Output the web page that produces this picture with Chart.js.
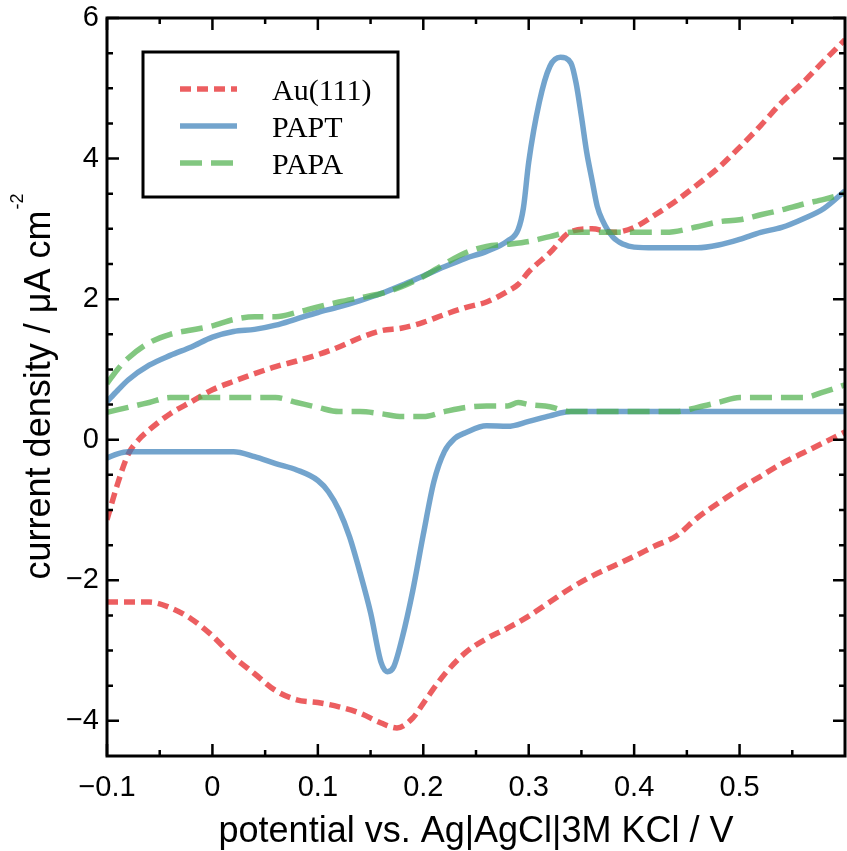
<!DOCTYPE html>
<html>
<head>
<meta charset="utf-8">
<script src="https://cdn.jsdelivr.net/npm/chart.js@4.4.1/dist/chart.umd.min.js"></script>
<style>
  html, body { margin: 0; padding: 0; background: #fff; }
  #wrap { width: 847px; height: 851px; }
</style>
</head>
<body>
<div id="wrap"><canvas id="cvChart" width="847" height="851"></canvas></div>
<script>
// Au(111) - varredura anodica (ramo de cima) e catodica (ramo de baixo)
const auSubidaV = [-0.1, -0.09, -0.08, -0.07, -0.06, -0.04, -0.02, 0, 0.02, 0.04, 0.06, 0.08, 0.1, 0.12, 0.14, 0.16, 0.18, 0.2, 0.22, 0.24, 0.26, 0.28, 0.29, 0.3, 0.32, 0.34, 0.36, 0.38, 0.4, 0.42, 0.44, 0.46, 0.48, 0.5, 0.52, 0.54, 0.56, 0.58, 0.6];
const auSubidaI = [-1.14, -0.63, -0.21, 0.0, 0.14, 0.37, 0.54, 0.71, 0.83, 0.94, 1.04, 1.12, 1.21, 1.32, 1.45, 1.55, 1.59, 1.67, 1.78, 1.88, 1.96, 2.11, 2.21, 2.39, 2.66, 2.96, 3.00, 2.95, 3.02, 3.20, 3.40, 3.63, 3.87, 4.16, 4.47, 4.80, 5.08, 5.39, 5.69];
const auDescidaV = [-0.1, -0.08, -0.06, -0.04, -0.02, 0, 0.02, 0.04, 0.06, 0.08, 0.1, 0.12, 0.14, 0.16, 0.175, 0.19, 0.2, 0.22, 0.24, 0.26, 0.28, 0.3, 0.32, 0.34, 0.36, 0.38, 0.4, 0.42, 0.44, 0.46, 0.48, 0.5, 0.52, 0.54, 0.56, 0.58, 0.6];
const auDescidaI = [-2.31, -2.31, -2.31, -2.39, -2.55, -2.79, -3.09, -3.33, -3.57, -3.70, -3.74, -3.80, -3.89, -4.03, -4.10, -3.96, -3.75, -3.34, -3.03, -2.83, -2.68, -2.51, -2.31, -2.11, -1.94, -1.80, -1.66, -1.51, -1.37, -1.11, -0.90, -0.70, -0.52, -0.34, -0.19, -0.04, 0.11];

// PAPT
const paptSubidaV = [-0.1, -0.09, -0.08, -0.06, -0.04, -0.02, 0, 0.02, 0.04, 0.06, 0.08, 0.1, 0.12, 0.14, 0.16, 0.18, 0.2, 0.22, 0.24, 0.26, 0.28, 0.29, 0.295, 0.3, 0.31, 0.32, 0.33, 0.34, 0.345, 0.35, 0.355, 0.36, 0.365, 0.37, 0.38, 0.39, 0.4, 0.42, 0.44, 0.46, 0.48, 0.5, 0.52, 0.54, 0.56, 0.58, 0.6];
const paptSubidaI = [0.54, 0.70, 0.85, 1.06, 1.20, 1.32, 1.46, 1.54, 1.57, 1.63, 1.72, 1.81, 1.89, 1.98, 2.08, 2.20, 2.33, 2.46, 2.58, 2.68, 2.83, 2.99, 3.3, 3.95, 4.8, 5.31, 5.44, 5.36, 5.07, 4.6, 4.09, 3.7, 3.32, 3.12, 2.88, 2.78, 2.74, 2.73, 2.73, 2.73, 2.77, 2.85, 2.95, 3.02, 3.14, 3.29, 3.54];
const paptDescidaV = [-0.1, -0.09, -0.08, 0.02, 0.04, 0.06, 0.08, 0.1, 0.11, 0.12, 0.13, 0.14, 0.15, 0.16, 0.166, 0.172, 0.18, 0.19, 0.2, 0.21, 0.22, 0.23, 0.24, 0.26, 0.28, 0.3, 0.32, 0.34, 0.6];
const paptDescidaI = [-0.26, -0.20, -0.17, -0.17, -0.24, -0.34, -0.43, -0.58, -0.74, -1.0, -1.38, -1.89, -2.46, -3.17, -3.30, -3.23, -2.82, -2.15, -1.35, -0.6, -0.17, 0.02, 0.10, 0.20, 0.19, 0.26, 0.34, 0.40, 0.40];

// PAPA
const papaSubidaV = [-0.1, -0.09, -0.08, -0.06, -0.04, -0.02, 0, 0.02, 0.04, 0.06, 0.08, 0.1, 0.12, 0.14, 0.16, 0.18, 0.2, 0.22, 0.24, 0.26, 0.28, 0.3, 0.32, 0.34, 0.43, 0.46, 0.48, 0.5, 0.52, 0.54, 0.56, 0.58, 0.6];
const papaSubidaI = [0.80, 1.00, 1.16, 1.38, 1.50, 1.56, 1.62, 1.71, 1.75, 1.75, 1.81, 1.89, 1.96, 2.02, 2.08, 2.18, 2.32, 2.50, 2.66, 2.75, 2.78, 2.82, 2.89, 2.95, 2.95, 3.03, 3.10, 3.13, 3.20, 3.27, 3.35, 3.42, 3.50];
const papaDescidaV = [-0.1, -0.08, -0.06, -0.04, 0.06, 0.08, 0.1, 0.12, 0.14, 0.16, 0.18, 0.2, 0.22, 0.24, 0.26, 0.28, 0.29, 0.3, 0.32, 0.34, 0.44, 0.46, 0.48, 0.5, 0.56, 0.58, 0.6];
const papaDescidaI = [0.39, 0.46, 0.53, 0.60, 0.60, 0.53, 0.46, 0.40, 0.40, 0.37, 0.33, 0.33, 0.40, 0.46, 0.48, 0.48, 0.53, 0.50, 0.47, 0.40, 0.40, 0.46, 0.53, 0.60, 0.60, 0.68, 0.78];

const nomesSeries = ['Au(111)', 'PAPT', 'PAPA'];

// marcas dos eixos
const xTicksMaiores = [-0.1, 0, 0.1, 0.2, 0.3, 0.4, 0.5];
const xTicksMenores = [-0.05, 0.05, 0.15, 0.25, 0.35, 0.45, 0.55];
const yTicksMaiores = [-4, -2, 0, 2, 4, 6];
const yTicksMenores = [-3.5, -3, -2.5, -1.5, -1, -0.5, 0.5, 1, 1.5, 2.5, 3, 3.5, 4.5, 5, 5.5];

const fonteSans = "'Liberation Sans', Arial, sans-serif";
const fonteSerif = "'Liberation Serif', 'Times New Roman', serif";

const corAu = 'rgba(228, 26, 28, 0.7)';
const corPapt = 'rgba(55, 126, 184, 0.7)';
const corPapa = 'rgba(77, 175, 74, 0.7)';

function pontos(vs, is) {
  return vs.map((v, k) => ({ x: v, y: is[k] }));
}

function formatar(v) {
  if (v === 0) return '0';
  return v < 0 ? '\u2212' + Math.abs(v) : String(v);
}

function serie(label, vs, is, cor, tracejado, ordem, naLegenda) {
  return {
    label: label,
    data: pontos(vs, is),
    borderColor: cor,
    borderWidth: 5.5,
    borderDash: tracejado,
    borderCapStyle: 'butt',
    showLine: true,
    pointRadius: 0,
    fill: false,
    cubicInterpolationMode: 'monotone',
    order: ordem,
    naLegenda: naLegenda
  };
}

// eixos com ticks pra dentro, moldura, titulos e legenda
const molduraPlugin = {
  id: 'moldura',
  afterDraw(chart) {
    const { ctx, chartArea: a, scales: { x, y } } = chart;
    ctx.save();
    ctx.strokeStyle = '#000';
    ctx.lineWidth = 2.5;
    ctx.beginPath();
    const tickX = (v, len) => {
      const px = x.getPixelForValue(v);
      ctx.moveTo(px, a.bottom); ctx.lineTo(px, a.bottom - len);
      ctx.moveTo(px, a.top); ctx.lineTo(px, a.top + len);
    };
    const tickY = (v, len) => {
      const py = y.getPixelForValue(v);
      ctx.moveTo(a.left, py); ctx.lineTo(a.left + len, py);
      ctx.moveTo(a.right, py); ctx.lineTo(a.right - len, py);
    };
    xTicksMaiores.forEach(v => tickX(v, 12));
    xTicksMenores.forEach(v => tickX(v, 6));
    yTicksMaiores.forEach(v => tickY(v, 12));
    yTicksMenores.forEach(v => tickY(v, 6));
    ctx.stroke();

    ctx.lineWidth = 3;
    ctx.strokeRect(a.left, a.top, a.right - a.left, a.bottom - a.top);

    // titulo do eixo x
    ctx.fillStyle = '#000';
    ctx.font = '36px ' + fonteSans;
    ctx.textAlign = 'center';
    ctx.textBaseline = 'alphabetic';
    ctx.fillText('potential vs. Ag|AgCl|3M KCl / V', (a.left + a.right) / 2, 842);

    // titulo do eixo y com expoente
    const principal = 'current density / \u03bcA cm';
    const expoente = '-2';
    ctx.font = '36px ' + fonteSans;
    const wP = ctx.measureText(principal).width;
    ctx.font = '18px ' + fonteSans;
    const wE = ctx.measureText(expoente).width;
    ctx.save();
    ctx.translate(50, (a.top + a.bottom) / 2);
    ctx.rotate(-Math.PI / 2);
    ctx.textAlign = 'left';
    const x0 = -(wP + wE) / 2;
    ctx.font = '36px ' + fonteSans;
    ctx.fillText(principal, x0, 0);
    ctx.font = '18px ' + fonteSans;
    ctx.fillText(expoente, x0 + wP + 1, -27);
    ctx.restore();

    // legenda
    ctx.lineWidth = 3;
    ctx.fillStyle = '#fff';
    ctx.fillRect(143, 52, 255, 145);
    ctx.strokeRect(143, 52, 255, 145);
    const itens = chart.data.datasets.filter(d => d.naLegenda);
    itens.forEach((d, k) => {
      const yc = 89 + k * 37;
      ctx.save();
      ctx.strokeStyle = d.borderColor;
      ctx.lineWidth = d.borderWidth;
      ctx.setLineDash(d.borderDash || []);
      ctx.beginPath();
      ctx.moveTo(180, yc);
      ctx.lineTo(237, yc);
      ctx.stroke();
      ctx.restore();
      ctx.fillStyle = '#000';
      ctx.font = '30px ' + fonteSerif;
      ctx.textAlign = 'left';
      ctx.textBaseline = 'alphabetic';
      ctx.fillText(d.label, 272, yc + 11);
    });
    ctx.restore();
  }
};

const ctx = document.getElementById('cvChart').getContext('2d');
const grafico = new Chart(ctx, {
  type: 'scatter',
  data: {
    datasets: [
      serie(nomesSeries[0], auSubidaV, auSubidaI, corAu, [11, 6], 3, true),
      serie(nomesSeries[0], auDescidaV, auDescidaI, corAu, [11, 6], 3, false),
      serie(nomesSeries[1], paptSubidaV, paptSubidaI, corPapt, [], 2, true),
      serie(nomesSeries[1], paptDescidaV, paptDescidaI, corPapt, [], 2, false),
      serie(nomesSeries[2], papaSubidaV, papaSubidaI, corPapa, [22, 9], 1, true),
      serie(nomesSeries[2], papaDescidaV, papaDescidaI, corPapa, [22, 9], 1, false)
    ]
  },
  options: {
    responsive: false,
    animation: false,
    devicePixelRatio: 1,
    layout: { padding: { left: 0, right: 2, top: 18, bottom: 0 } },
    plugins: {
      legend: { display: false },
      tooltip: { enabled: false }
    },
    scales: {
      x: {
        type: 'linear',
        min: -0.1,
        max: 0.6,
        grid: { display: false, drawTicks: false },
        border: { display: false },
        afterBuildTicks: s => { s.ticks = xTicksMaiores.map(v => ({ value: v })); },
        afterFit: s => { s.height = 95; s.paddingLeft = 0; s.paddingRight = 0; },
        ticks: {
          padding: 15,
          color: '#000',
          font: { family: fonteSans, size: 29 },
          maxRotation: 0,
          callback: v => formatar(v)
        }
      },
      y: {
        type: 'linear',
        min: -4.5,
        max: 6,
        grid: { display: false, drawTicks: false },
        border: { display: false },
        afterBuildTicks: s => { s.ticks = yTicksMaiores.map(v => ({ value: v })); },
        afterFit: s => { s.width = 107; s.paddingTop = 0; s.paddingBottom = 0; },
        ticks: {
          padding: 8,
          color: '#000',
          font: { family: fonteSans, size: 29 },
          callback: v => formatar(v)
        }
      }
    }
  },
  plugins: [molduraPlugin]
});
</script>
</body>
</html>
